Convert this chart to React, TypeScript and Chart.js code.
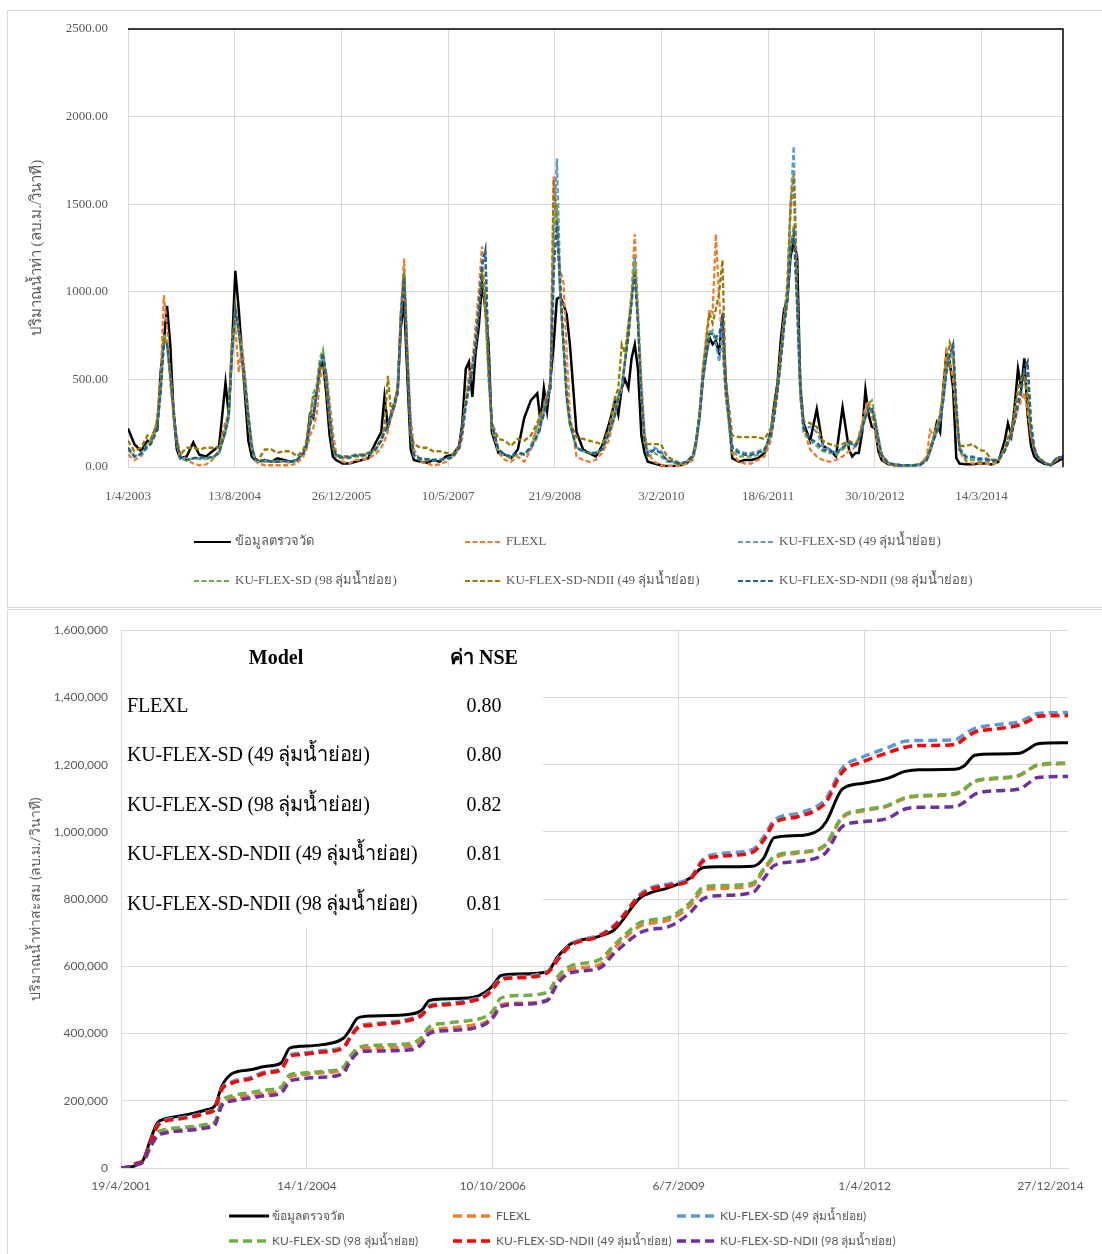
import React, { useEffect, useRef } from 'react';
import { Chart, registerables } from 'chart.js';
Chart.register(...registerables);

// ---------- shared ----------
const SERIES_NAMES = [
  'ข้อมูลตรวจวัด',
  'FLEXL',
  'KU-FLEX-SD (49 ลุ่มน้ำย่อย)',
  'KU-FLEX-SD (98 ลุ่มน้ำย่อย)',
  'KU-FLEX-SD-NDII (49 ลุ่มน้ำย่อย)',
  'KU-FLEX-SD-NDII (98 ลุ่มน้ำย่อย)',
];

// ---------- top chart (daily discharge, days since 1/4/2003) ----------
const TOP_DAYS = [
  0, 30, 61, 91, 106, 122, 137, 153, 168, 183, 198, 214, 229, 244, 275, 306, 334,
  366, 396, 427, 457, 472, 488, 503, 519, 534, 549, 564, 580, 595, 610, 641, 672, 700,
  731, 761, 792, 822, 837, 853, 868, 884, 899, 914, 929, 945, 960, 975, 1006, 1037, 1065,
  1096, 1126, 1157, 1187, 1202, 1218, 1233, 1249, 1264, 1279, 1294, 1310, 1325, 1340, 1371, 1402, 1430,
  1461, 1491, 1522, 1552, 1567, 1583, 1598, 1614, 1629, 1644, 1659, 1675, 1690, 1705, 1736, 1767, 1795,
  1827, 1857, 1888, 1918, 1933, 1949, 1964, 1980, 1995, 2010, 2025, 2041, 2056, 2071, 2102, 2133, 2161,
  2192, 2222, 2253, 2283, 2298, 2314, 2329, 2345, 2360, 2375, 2390, 2406, 2421, 2436, 2467, 2498, 2526,
  2557, 2587, 2618, 2648, 2663, 2679, 2694, 2710, 2725, 2740, 2755, 2771, 2786, 2801, 2832, 2863, 2891,
  2922, 2952, 2983, 3013, 3028, 3044, 3059, 3075, 3090, 3105, 3120, 3136, 3151, 3166, 3197, 3228, 3256,
  3288, 3318, 3349, 3379, 3394, 3410, 3425, 3441, 3456, 3471, 3486, 3502, 3517, 3532, 3563, 3594, 3622,
  3653, 3683, 3714, 3744, 3759, 3775, 3790, 3806, 3821, 3836, 3851, 3867, 3882, 3897, 3928, 3959, 3987,
  4018, 4048, 4079, 4109, 4124, 4140, 4155, 4171, 4186, 4201, 4216, 4232, 4247, 4262, 4293, 4324, 4352,
  4382,
];

const TOP_OBS = [
  220, 130, 90, 150, 140, 200, 210, 540, 720, 920, 700, 300, 100, 50, 60, 140, 70,
  60, 90, 120, 480, 300, 700, 1120, 900, 650, 400, 150, 60, 40, 30, 40, 30, 50,
  40, 30, 40, 80, 130, 300, 280, 420, 560, 600, 420, 180, 60, 40, 20, 20, 30,
  40, 50, 130, 200, 400, 230, 300, 350, 450, 800, 950, 500, 100, 40, 30, 25, 40,
  30, 60, 70, 120, 250, 560, 600, 400, 650, 800, 1050, 900, 700, 200, 80, 70, 50,
  100, 280, 380, 420, 260, 450, 320, 500, 700, 960, 970, 930, 870, 700, 200, 100, 80,
  60, 120, 240, 380, 300, 450, 500, 450, 620, 700, 560, 180, 80, 30, 20, 10, 5,
  5, 10, 20, 60, 150, 300, 500, 640, 740, 700, 720, 650, 870, 500, 50, 30, 40,
  40, 50, 80, 200, 350, 480, 720, 900, 950, 1200, 1290, 1200, 450, 250, 150, 330, 120,
  100, 60, 340, 100, 60, 80, 80, 200, 440, 300, 230, 220, 90, 40, 15, 10, 10,
  10, 10, 15, 50, 100, 160, 250, 200, 450, 650, 600, 450, 50, 20, 15, 15, 20,
  20, 15, 30, 150, 250, 180, 340, 560, 450, 620, 300, 120, 60, 40, 20, 10, 30,
  50,
];

const TOP_FLEXL = [
  70, 40, 60, 120, 150, 200, 280, 500, 980, 800, 480, 280, 170, 80, 40, 20, 10,
  15, 40, 100, 260, 300, 750, 800, 540, 700, 520, 300, 120, 40, 20, 10, 10, 10,
  10, 10, 20, 60, 100, 180, 220, 300, 500, 560, 550, 380, 200, 80, 30, 20, 40,
  40, 50, 70, 110, 150, 200, 280, 350, 450, 900, 1190, 650, 280, 100, 30, 20, 10,
  15, 30, 60, 100, 170, 380, 520, 600, 800, 1000, 1260, 900, 520, 250, 80, 40, 30,
  60, 30, 100, 230, 280, 330, 420, 450, 1660, 1350, 1130, 1050, 650, 300, 60, 40, 30,
  40, 80, 150, 300, 380, 450, 600, 800, 1000, 1330, 900, 500, 200, 80, 30, 10, 5,
  5, 5, 20, 40, 120, 300, 550, 750, 900, 880, 1330, 950, 700, 400, 80, 30, 20,
  20, 40, 60, 150, 300, 450, 650, 850, 1000, 1450, 1630, 900, 400, 220, 100, 60, 40,
  30, 40, 60, 90, 100, 120, 180, 250, 340, 380, 300, 200, 120, 50, 15, 10, 10,
  10, 10, 20, 60, 210, 180, 230, 300, 450, 660, 600, 500, 280, 90, 30, 20, 20,
  20, 15, 30, 100, 130, 180, 260, 330, 380, 420, 320, 180, 100, 60, 30, 10, 40,
  60,
];

const TOP_SD49 = [
  110, 60, 70, 110, 130, 170, 230, 420, 720, 690, 520, 320, 140, 60, 40, 50, 50,
  50, 55, 80, 200, 280, 650, 900, 780, 640, 480, 300, 130, 50, 30, 40, 30, 30,
  30, 30, 40, 80, 120, 240, 300, 430, 580, 640, 520, 300, 130, 70, 60, 60, 70,
  70, 80, 100, 150, 200, 220, 290, 350, 420, 850, 1100, 600, 200, 70, 50, 45, 40,
  40, 50, 60, 110, 200, 350, 450, 560, 700, 880, 1150, 1200, 600, 250, 100, 70, 60,
  80, 70, 100, 170, 230, 300, 380, 450, 1300, 1760, 1100, 700, 400, 250, 110, 90, 80,
  80, 100, 180, 300, 400, 450, 600, 750, 950, 1200, 850, 420, 150, 80, 110, 90, 40,
  30, 20, 30, 60, 140, 280, 500, 650, 760, 780, 700, 600, 800, 450, 120, 90, 80,
  80, 90, 100, 180, 280, 420, 600, 800, 950, 1500, 1830, 1000, 450, 220, 230, 200, 120,
  100, 80, 110, 140, 130, 120, 150, 220, 280, 340, 330, 250, 150, 70, 20, 15, 10,
  10, 10, 10, 40, 80, 150, 200, 260, 380, 550, 620, 690, 350, 110, 60, 60, 50,
  50, 40, 40, 90, 140, 180, 260, 350, 420, 560, 600, 250, 110, 60, 25, 10, 50,
  60,
];

const TOP_SD98 = [
  100, 60, 80, 130, 140, 180, 250, 430, 760, 700, 540, 320, 130, 50, 35, 50, 45,
  45, 50, 80, 210, 320, 650, 880, 760, 620, 460, 280, 100, 40, 30, 30, 30, 30,
  30, 25, 35, 80, 130, 280, 420, 460, 620, 670, 500, 280, 110, 60, 50, 50, 60,
  60, 70, 90, 150, 220, 240, 300, 360, 430, 880, 1120, 580, 180, 60, 40, 40, 40,
  40, 45, 55, 120, 220, 380, 480, 560, 700, 900, 1150, 1000, 520, 220, 90, 65, 50,
  75, 70, 120, 230, 290, 330, 400, 460, 1200, 1500, 1000, 680, 380, 240, 110, 90, 80,
  80, 100, 200, 320, 420, 460, 600, 760, 960, 1180, 850, 430, 140, 60, 80, 60, 30,
  25, 15, 30, 60, 140, 300, 520, 680, 780, 760, 740, 720, 700, 420, 90, 60, 60,
  60, 70, 90, 190, 300, 440, 620, 820, 950, 1250, 1380, 900, 400, 200, 150, 120, 90,
  80, 70, 100, 130, 130, 130, 170, 230, 300, 360, 380, 280, 170, 70, 20, 15, 10,
  10, 10, 15, 45, 100, 170, 220, 280, 400, 560, 640, 620, 330, 100, 40, 40, 35,
  35, 30, 40, 100, 160, 200, 300, 400, 460, 520, 450, 200, 100, 55, 25, 10, 50,
  60,
];

const TOP_NDII49 = [
  150, 90, 110, 180, 160, 200, 260, 470, 740, 700, 520, 300, 150, 70, 110, 110, 100,
  110, 110, 110, 230, 300, 700, 920, 780, 600, 440, 250, 110, 50, 40, 100, 100, 80,
  90, 90, 60, 100, 150, 280, 400, 420, 560, 580, 460, 260, 110, 70, 60, 60, 70,
  70, 80, 100, 160, 230, 520, 310, 380, 450, 880, 1100, 600, 200, 130, 110, 110, 90,
  90, 80, 70, 120, 220, 380, 480, 580, 720, 920, 1120, 900, 520, 250, 160, 150, 120,
  160, 150, 180, 250, 300, 340, 400, 480, 1640, 1400, 1000, 700, 420, 260, 170, 160, 150,
  140, 130, 210, 400, 450, 700, 650, 820, 950, 1120, 820, 400, 170, 130, 130, 130, 60,
  40, 20, 30, 70, 150, 320, 560, 720, 880, 820, 900, 1000, 1180, 500, 180, 170, 170,
  170, 170, 160, 220, 330, 460, 650, 850, 1050, 1500, 1670, 1000, 500, 260, 250, 230, 150,
  130, 120, 130, 150, 140, 130, 160, 230, 290, 350, 320, 240, 150, 70, 25, 15, 10,
  10, 10, 15, 45, 100, 160, 220, 300, 420, 600, 710, 660, 300, 120, 120, 130, 100,
  90, 40, 40, 110, 170, 210, 320, 450, 500, 540, 380, 180, 100, 60, 25, 10, 50,
  60,
];

const TOP_NDII98 = [
  110, 60, 75, 120, 130, 170, 230, 430, 700, 700, 540, 330, 140, 60, 40, 50, 55,
  55, 55, 80, 200, 290, 650, 900, 780, 640, 480, 300, 120, 50, 35, 40, 30, 30,
  35, 30, 40, 80, 120, 240, 300, 430, 580, 650, 520, 300, 120, 65, 55, 55, 65,
  65, 75, 95, 150, 200, 230, 290, 360, 420, 850, 1080, 600, 190, 70, 45, 45, 40,
  40, 50, 55, 110, 200, 350, 450, 560, 700, 880, 1150, 1240, 600, 250, 100, 70, 60,
  80, 75, 110, 180, 240, 300, 380, 450, 1100, 1400, 1050, 700, 400, 250, 110, 90, 80,
  80, 100, 190, 300, 400, 450, 600, 740, 940, 1100, 820, 420, 150, 70, 100, 80, 35,
  30, 20, 30, 60, 140, 280, 500, 660, 760, 760, 740, 760, 850, 450, 110, 80, 70,
  70, 80, 100, 180, 280, 430, 600, 800, 950, 1250, 1330, 950, 450, 220, 160, 140, 100,
  90, 80, 110, 140, 130, 120, 150, 220, 280, 330, 340, 260, 160, 70, 20, 15, 10,
  10, 10, 12, 40, 90, 150, 200, 260, 380, 540, 640, 700, 360, 100, 55, 55, 45,
  45, 35, 40, 90, 140, 180, 260, 360, 430, 560, 600, 250, 110, 60, 25, 10, 50,
  60,
];

const TOP_X_TICK_DAYS = [0, 500, 1000, 1500, 2000, 2500, 3000, 3500, 4000];
const TOP_X_TICK_LABELS = ['1/4/2003', '13/8/2004', '26/12/2005', '10/5/2007', '21/9/2008', '3/2/2010', '18/6/2011', '30/10/2012', '14/3/2014'];
const TOP_Y_TICKS = [0, 500, 1000, 1500, 2000, 2500];
const TOP_Y_TITLE = 'ปริมาณน้ำท่า (ลบ.ม./วินาที)';

// ---------- bottom chart (cumulative, days since 19/4/2001) ----------
const BOT_DAYS = [
  0, 40, 80, 119, 158, 196, 235, 312, 398, 465, 504, 542, 600, 696, 773, 860, 908, 965, 1081, 1196,
  1230, 1273, 1350, 1562, 1619, 1658, 1735, 1888, 1965, 2004, 2042, 2138, 2292, 2350, 2414, 2575, 2656,
  2792, 2850, 2946, 3062, 3129, 3216, 3399, 3457, 3514, 3640, 3755, 3794, 3880, 3987, 4121, 4218, 4295,
  4487, 4535, 4593, 4699, 4834, 4882, 4930, 5094,
];

const BOT_OBS = [
  0, 2000, 8000, 23000, 84000, 134000, 146000, 154000, 164000, 174000, 184000, 243000, 282000, 292000, 302000, 312000, 357000, 362000, 367000, 386000,
  410000, 446000, 452000, 458000, 470000, 498000, 503000, 507000, 525000, 545000, 572000, 577000, 584000, 629000, 665000, 690000, 710000,
  804000, 819000, 834000, 863000, 893000, 896000, 898000, 922000, 983000, 989000, 1006000, 1031000, 1127000, 1144000, 1159000, 1180000, 1185000,
  1186000, 1196000, 1228000, 1232000, 1234000, 1247000, 1262000, 1265000,
];

const BOT_FLEXL = [
  0, 3000, 14000, 22000, 68000, 100000, 108000, 113000, 118000, 124000, 130000, 190000, 207000, 215000, 222000, 230000, 270000, 277000, 283000, 295000,
  325000, 350000, 357000, 362000, 380000, 408000, 415000, 425000, 435000, 455000, 485000, 490000, 500000, 560000, 590000, 605000, 655000,
  720000, 728000, 738000, 780000, 825000, 832000, 842000, 885000, 922000, 937000, 948000, 962000, 1042000, 1062000, 1076000, 1100000, 1106000,
  1112000, 1126000, 1150000, 1158000, 1168000, 1184000, 1198000, 1203000,
];

const BOT_SD49 = [
  0, 3000, 13000, 24000, 77000, 127000, 142000, 149000, 157000, 167000, 177000, 236000, 257000, 269000, 286000, 296000, 336000, 341000, 349000, 361000,
  389000, 420000, 429000, 445000, 459000, 483000, 489000, 501000, 517000, 539000, 564000, 570000, 584000, 624000, 664000, 694000, 724000,
  814000, 834000, 845000, 864000, 918000, 935000, 948000, 985000, 1035000, 1055000, 1080000, 1100000, 1190000, 1222000, 1250000, 1270000, 1272000,
  1274000, 1290000, 1308000, 1318000, 1328000, 1340000, 1352000, 1355000,
];

const BOT_SD98 = [
  0, 3000, 12000, 20000, 70000, 105000, 114000, 120000, 124000, 130000, 137000, 197000, 215000, 224000, 232000, 240000, 277000, 282000, 287000, 300000,
  330000, 356000, 365000, 371000, 390000, 420000, 430000, 440000, 451000, 470000, 505000, 513000, 522000, 570000, 600000, 620000, 665000,
  730000, 738000, 745000, 790000, 834000, 840000, 848000, 890000, 927000, 940000, 950000, 965000, 1045000, 1065000, 1078000, 1102000, 1108000,
  1114000, 1128000, 1151000, 1160000, 1169000, 1185000, 1200000, 1205000,
];

const BOT_NDII49 = [
  0, 3000, 12000, 22000, 75000, 124000, 139000, 146000, 154000, 164000, 174000, 233000, 253000, 265000, 282000, 292000, 332000, 337000, 345000, 357000,
  385000, 416000, 425000, 441000, 455000, 479000, 485000, 497000, 513000, 535000, 560000, 566000, 580000, 620000, 660000, 690000, 720000,
  809000, 829000, 840000, 858000, 912000, 927000, 940000, 975000, 1026000, 1045000, 1070000, 1090000, 1178000, 1208000, 1235000, 1252000, 1257000,
  1259000, 1277000, 1297000, 1306000, 1318000, 1330000, 1344000, 1346000,
];

const BOT_NDII98 = [
  0, 2000, 10000, 18000, 62000, 95000, 104000, 110000, 114000, 120000, 127000, 185000, 200000, 208000, 215000, 222000, 258000, 265000, 270000, 282000,
  315000, 342000, 348000, 352000, 370000, 400000, 408000, 415000, 430000, 450000, 480000, 487000, 498000, 550000, 580000, 595000, 640000,
  700000, 710000, 718000, 760000, 800000, 810000, 820000, 860000, 900000, 912000, 925000, 940000, 1016000, 1030000, 1040000, 1068000, 1073000,
  1075000, 1088000, 1112000, 1122000, 1128000, 1145000, 1162000, 1165000,
];

const BOT_X_TICK_DAYS = [0, 1000, 2000, 3000, 4000, 5000];
const BOT_X_TICK_LABELS = ['19/4/2001', '14/1/2004', '10/10/2006', '6/7/2009', '1/4/2012', '27/12/2014'];
const BOT_Y_TICKS = [0, 200000, 400000, 600000, 800000, 1000000, 1200000, 1400000, 1600000];
const BOT_Y_TITLE = 'ปริมาณน้ำท่าสะสม (ลบ.ม./วินาที)';

const NSE_HEADER = ['Model', 'ค่า NSE'];
const NSE_MODELS = [
  'FLEXL',
  'KU-FLEX-SD (49 ลุ่มน้ำย่อย)',
  'KU-FLEX-SD (98 ลุ่มน้ำย่อย)',
  'KU-FLEX-SD-NDII (49 ลุ่มน้ำย่อย)',
  'KU-FLEX-SD-NDII (98 ลุ่มน้ำย่อย)',
];
const NSE_VALUES = ['0.80', '0.80', '0.82', '0.81', '0.81'];

// ---------- styles ----------
const SERIF = '"Liberation Serif", "Times New Roman", serif';
const SANS = 'Lato, "Liberation Sans", sans-serif';
const GRID = '#d9d9d9';
const TICK = '#595959';

const TOP_COLORS = ['#000000', '#ED7D31', '#5B9BD5', '#70AD47', '#9C7A00', '#255E91'];
const BOT_COLORS = ['#000000', '#ED7D31', '#5B9BD5', '#70AD47', '#FF0000', '#7030A0'];

const legendPlugin = {
  id: 'customLegend',
  afterDraw(chart: any, _args: any, opts: any) {
    const ctx = chart.ctx;
    ctx.save();
    chart.data.datasets.forEach((ds: any, i: number) => {
      const p = opts.pos[i];
      ctx.beginPath();
      ctx.strokeStyle = ds.borderColor;
      ctx.lineWidth = opts.lineWidth[i];
      ctx.setLineDash(ds.borderDash || []);
      ctx.moveTo(p[0], p[1]);
      ctx.lineTo(p[0] + opts.len, p[1]);
      ctx.stroke();
      ctx.setLineDash([]);
      ctx.fillStyle = opts.color;
      ctx.font = opts.font;
      ctx.textBaseline = 'middle';
      ctx.textAlign = 'left';
      ctx.fillText(ds.label, p[0] + opts.len + opts.gap, p[1]);
    });
    ctx.restore();
  },
};

const frameTopRightPlugin = {
  id: 'frameTR',
  afterDatasetsDraw(chart: any, _a: any, opts: any) {
    if (!opts || !opts.on) return;
    const { left, right, top, bottom } = chart.chartArea;
    const ctx = chart.ctx;
    ctx.save();
    ctx.strokeStyle = '#000';
    ctx.lineWidth = 1.5;
    ctx.beginPath();
    ctx.moveTo(left, top);
    ctx.lineTo(right, top);
    ctx.lineTo(right, bottom);
    ctx.stroke();
    ctx.restore();
  },
};

function makeTop(canvas: HTMLCanvasElement) {
  const series = [TOP_OBS, TOP_FLEXL, TOP_SD49, TOP_SD98, TOP_NDII49, TOP_NDII98];
  return new Chart(canvas, {
    type: 'line',
    data: {
      datasets: series.map((s, i) => ({
        label: SERIES_NAMES[i],
        data: TOP_DAYS.map((d, j) => ({ x: d, y: s[j] })),
        borderColor: TOP_COLORS[i],
        borderWidth: i === 0 ? 2.5 : 2.3,
        borderDash: i === 0 ? [] : [5, 2.5],
        pointRadius: 0,
        tension: 0,
        fill: false,
        order: 6 - i,
      })),
    },
    options: {
      animation: false,
      responsive: false,
      events: [],
      layout: { padding: { left: 20, top: 29, right: 39, bottom: 0 } },
      plugins: {
        legend: { display: false },
        tooltip: { enabled: false },
        customLegend: {
          pos: [[194, 542], [465, 542], [738, 542], [194, 581], [465, 581], [738, 581]],
          lineWidth: [2, 2, 2, 2, 2, 2],
          len: 37,
          gap: 4,
          font: `13px ${SERIF}`,
          color: TICK,
        },
        frameTR: { on: true },
      } as any,
      scales: {
        x: {
          type: 'linear',
          min: 0,
          max: 4382,
          afterBuildTicks: (s: any) => { s.ticks = TOP_X_TICK_DAYS.map((v) => ({ value: v })); },
          afterFit: (s: any) => { s.height = 141; },
          ticks: {
            callback: (_v: any, i: number) => TOP_X_TICK_LABELS[i],
            padding: 22,
            maxRotation: 0,
            autoSkip: false,
            color: TICK,
            font: { family: SERIF, size: 13 },
          },
          grid: { color: GRID, drawTicks: false },
          border: { color: GRID },
        },
        y: {
          min: 0,
          max: 2500,
          afterBuildTicks: (s: any) => { s.ticks = TOP_Y_TICKS.map((v) => ({ value: v })); },
          afterFit: (s: any) => { s.width = 108; },
          ticks: {
            callback: (v: any) => Number(v).toFixed(2),
            padding: 20,
            color: TICK,
            font: { family: SERIF, size: 13 },
          },
          grid: { color: GRID, drawTicks: false },
          border: { color: GRID },
          title: {
            display: true,
            text: TOP_Y_TITLE,
            color: TICK,
            font: { family: SERIF, size: 15 },
            padding: { top: 8, bottom: 0 },
          },
        },
      },
    } as any,
    plugins: [legendPlugin, frameTopRightPlugin],
  });
}

function makeBottom(canvas: HTMLCanvasElement) {
  const series = [BOT_OBS, BOT_FLEXL, BOT_SD49, BOT_SD98, BOT_NDII49, BOT_NDII98];
  return new Chart(canvas, {
    type: 'line',
    data: {
      datasets: series.map((s, i) => ({
        label: SERIES_NAMES[i],
        data: BOT_DAYS.map((d, j) => ({ x: d, y: s[j] })),
        borderColor: BOT_COLORS[i],
        borderWidth: i === 0 ? 3 : 3.5,
        borderDash: i === 0 ? [] : [9, 5],
        pointRadius: 0,
        cubicInterpolationMode: 'monotone',
        fill: false,
        order: 6 - i,
      })),
    },
    options: {
      animation: false,
      responsive: false,
      events: [],
      layout: { padding: { left: 13, top: 17, right: 34, bottom: 0 } },
      plugins: {
        legend: { display: false },
        tooltip: { enabled: false },
        customLegend: {
          pos: [[229, 606], [453, 606], [677, 606], [229, 631], [453, 631], [677, 631]],
          lineWidth: [3, 3.5, 3.5, 3.5, 3.5, 3.5],
          len: 40,
          gap: 3,
          font: `12px ${SANS}`,
          color: TICK,
        },
        frameTR: { on: false },
      } as any,
      scales: {
        x: {
          type: 'linear',
          min: 0,
          max: 5094,
          afterBuildTicks: (s: any) => { s.ticks = BOT_X_TICK_DAYS.map((v) => ({ value: v })); },
          afterFit: (s: any) => { s.height = 86; },
          ticks: {
            callback: (_v: any, i: number) => BOT_X_TICK_LABELS[i],
            padding: 11,
            maxRotation: 0,
            autoSkip: false,
            color: TICK,
            font: { family: SANS, size: 12 },
          },
          grid: { color: GRID, drawTicks: false },
          border: { color: GRID },
        },
        y: {
          min: 0,
          max: 1600000,
          afterBuildTicks: (s: any) => { s.ticks = BOT_Y_TICKS.map((v) => ({ value: v })); },
          afterFit: (s: any) => { s.width = 108; },
          ticks: {
            callback: (v: any) => Number(v).toLocaleString('en-US'),
            padding: 13,
            color: TICK,
            font: { family: SANS, size: 12 },
          },
          grid: { color: GRID, drawTicks: false },
          border: { color: GRID },
          title: {
            display: true,
            text: BOT_Y_TITLE,
            color: TICK,
            font: { family: SANS, size: 14 },
            padding: { top: 14, bottom: 0 },
          },
        },
      },
    } as any,
    plugins: [legendPlugin, frameTopRightPlugin],
  });
}

export default function App() {
  const topRef = useRef<HTMLCanvasElement>(null);
  const botRef = useRef<HTMLCanvasElement>(null);

  useEffect(() => {
    const a = makeTop(topRef.current!);
    const b = makeBottom(botRef.current!);
    return () => { a.destroy(); b.destroy(); };
  }, []);

  const rowY = [74, 123, 173, 222, 272];
  return (
    <div style={{ position: 'absolute', left: 0, top: 0, width: 1102, height: 1254, overflow: 'hidden', background: '#fff' }}>
      <div style={{ position: 'absolute', left: 7, top: 10, width: 1100, height: 598, border: `1px solid ${GRID}`, boxSizing: 'border-box' }} />
      <div style={{ position: 'absolute', left: 7, top: 609, width: 1100, height: 700, border: `1px solid ${GRID}`, boxSizing: 'border-box' }} />
      <canvas ref={topRef} width={1102} height={608} style={{ position: 'absolute', left: 0, top: 0, width: 1102, height: 608 }} />
      <canvas ref={botRef} width={1102} height={644} style={{ position: 'absolute', left: 0, top: 610, width: 1102, height: 644 }} />
      <div style={{ position: 'absolute', left: 122, top: 631, width: 421, height: 297, background: '#fff', fontFamily: SERIF, fontSize: 20, color: '#000' }}>
        <div style={{ position: 'absolute', left: 54, width: 200, top: 14, lineHeight: '24px', textAlign: 'center', fontWeight: 'bold' }}>{NSE_HEADER[0]}</div>
        <div style={{ position: 'absolute', left: 262, width: 200, top: 14, lineHeight: '24px', textAlign: 'center', fontWeight: 'bold' }}>{NSE_HEADER[1]}</div>
        {NSE_MODELS.map((m, i) => (
          <React.Fragment key={m}>
            <div style={{ position: 'absolute', left: 5, top: rowY[i] - 12, lineHeight: '24px', whiteSpace: 'nowrap', letterSpacing: '-0.2px' }}>{m}</div>
            <div style={{ position: 'absolute', left: 262, width: 200, top: rowY[i] - 12, lineHeight: '24px', textAlign: 'center' }}>{NSE_VALUES[i]}</div>
          </React.Fragment>
        ))}
      </div>
    </div>
  );
}
